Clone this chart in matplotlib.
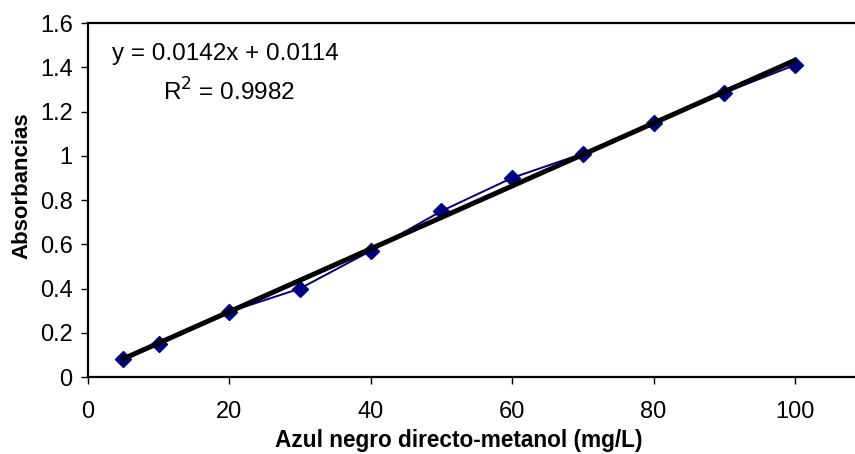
import matplotlib.pyplot as plt
import numpy as np

plt.rcParams["font.family"] = ["Liberation Sans", "DejaVu Sans"]

# data
conc = [5, 10, 20, 30, 40, 50, 60, 70, 80, 90, 100]
absorb = [0.08, 0.15, 0.295, 0.40, 0.57, 0.75, 0.90, 1.01, 1.15, 1.285, 1.41]
slope = 0.0142
intercept = 0.0114
eq_text = "y = 0.0142x + 0.0114"
r2_text = "R$^2$ = 0.9982"

fig = plt.figure(figsize=(8.55, 4.54), dpi=100)
ax = fig.add_axes([0.1029, 0.1696, 0.8971, 0.7797])

ax.plot(conc, absorb, color="#000080", lw=1.4, marker="D", ms=8,
        markeredgecolor="#000080", zorder=3)
xfit = np.array([conc[0], conc[-1]])
ax.plot(xfit, slope * xfit + intercept, color="black", lw=3.6,
        solid_capstyle="round", zorder=4)

ax.set_xlim(0, 108.5)
ax.set_ylim(0, 1.6)
ax.set_xticks(range(0, 101, 20))
ax.set_yticks(np.arange(0, 1.61, 0.2))
ax.set_yticklabels(["0", "0.2", "0.4", "0.6", "0.8", "1", "1.2", "1.4", "1.6"])

ax.spines["right"].set_visible(False)
for s in ["left", "bottom", "top"]:
    ax.spines[s].set_linewidth(1.6)
ax.tick_params(direction="out", length=5, width=1, labelsize=17)
ax.tick_params(axis="x", pad=12)
ax.tick_params(axis="y", pad=6)

ax.set_xlabel("Azul negro directo-metanol (mg/L)", fontsize=16.3,
              fontweight="bold")
ax.set_ylabel("Absorbancias", fontsize=16, fontweight="bold")
ax.xaxis.set_label_coords(0.4837, -0.148)
ax.yaxis.set_label_coords(-0.073, 0.54)

ax.text(3.4, 1.46, eq_text, fontsize=17.5, va="center")
ax.text(10.6, 1.29, r2_text, fontsize=17.5, va="center")

fig.savefig("out.png", dpi=100)
